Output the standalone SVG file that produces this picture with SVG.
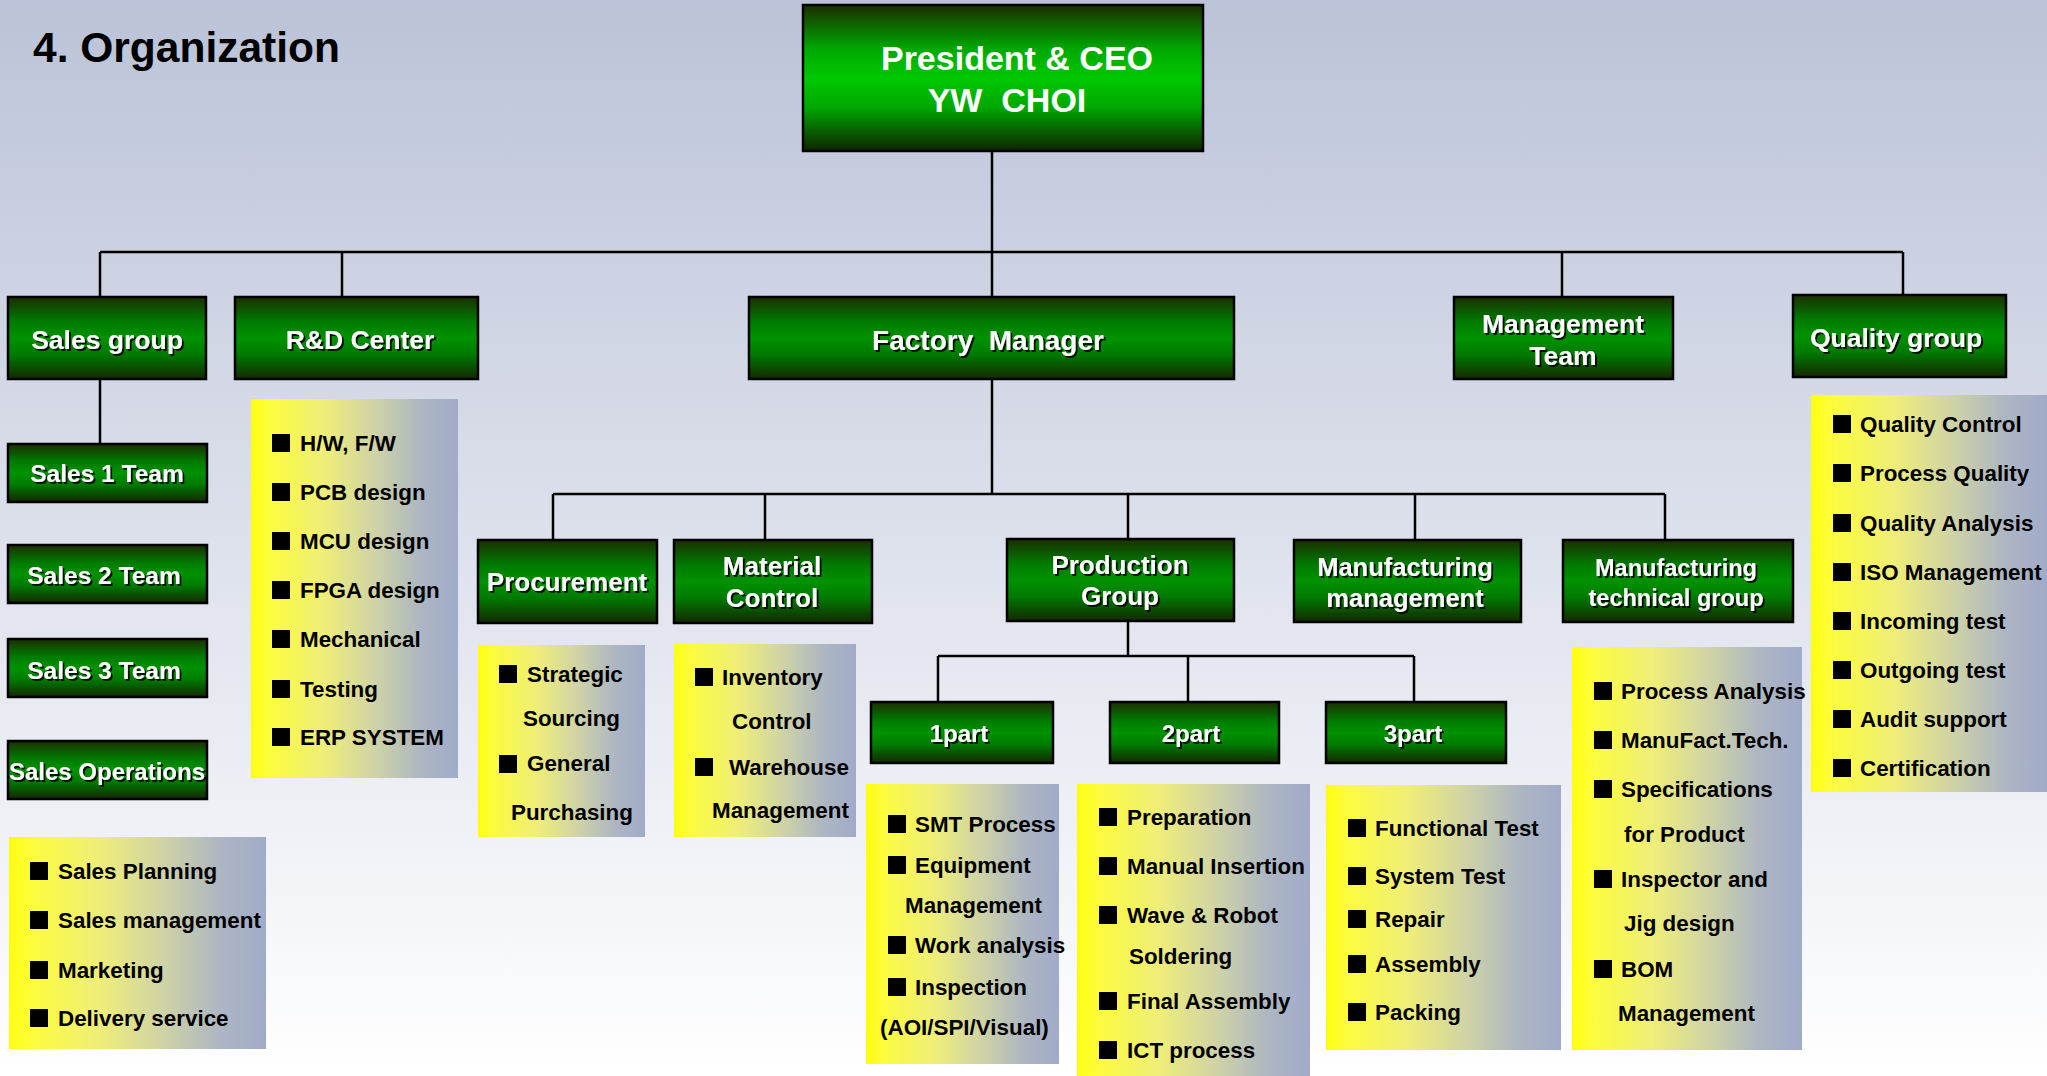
<svg xmlns="http://www.w3.org/2000/svg" width="2047" height="1076" viewBox="0 0 2047 1076">
<defs>
<linearGradient id="bg" x1="0" y1="0" x2="0" y2="1">
<stop offset="0" stop-color="#bbc3d8"/>
<stop offset="0.45" stop-color="#dadeea"/>
<stop offset="1" stop-color="#ffffff"/>
</linearGradient>
<linearGradient id="gr" x1="0" y1="0" x2="0" y2="1">
<stop offset="0" stop-color="#1b2e00"/>
<stop offset="0.3" stop-color="#007a00"/>
<stop offset="0.5" stop-color="#009200"/>
<stop offset="0.7" stop-color="#007a00"/>
<stop offset="1" stop-color="#142800"/>
</linearGradient>
<linearGradient id="ceo" x1="0" y1="0" x2="0" y2="1">
<stop offset="0" stop-color="#1b2e00"/>
<stop offset="0.3" stop-color="#00a800"/>
<stop offset="0.5" stop-color="#00c800"/>
<stop offset="0.7" stop-color="#00a800"/>
<stop offset="1" stop-color="#0e2400"/>
</linearGradient>
<linearGradient id="yl" x1="0" y1="0" x2="1" y2="0">
<stop offset="0" stop-color="#ffff10"/>
<stop offset="0.1" stop-color="#fbfb40"/>
<stop offset="0.35" stop-color="#efee78"/>
<stop offset="0.6" stop-color="#cfd3a6"/>
<stop offset="0.82" stop-color="#adb6c2"/>
<stop offset="1" stop-color="#a1abc9"/>
</linearGradient>
<filter id="sh" x="-10%" y="-30%" width="120%" height="160%">
<feDropShadow dx="2" dy="2" stdDeviation="0.7" flood-color="#000" flood-opacity="0.85"/>
</filter>
</defs>
<style>
.box{fill:url(#gr);stroke:#000;stroke-width:2.5}
.ceo{fill:url(#ceo);stroke:#000;stroke-width:2.5}
.t{font-family:"Liberation Sans",Arial,sans-serif;font-weight:bold;fill:#fff;text-anchor:middle;font-size:26.5px;filter:url(#sh)}
.ct{font-family:"Liberation Sans",Arial,sans-serif;font-weight:bold;fill:#fff;text-anchor:middle;font-size:34px}
.list{fill:url(#yl)}
.li{font-family:"Liberation Sans",Arial,sans-serif;font-weight:bold;fill:#000;font-size:22.4px}
.b{fill:#000}
.c{stroke:#000;stroke-width:2.5;fill:none}
.title{font-family:"Liberation Sans",Arial,sans-serif;font-weight:bold;fill:#000;font-size:42.5px}
</style>
<rect x="0" y="0" width="2047" height="1076" fill="url(#bg)"/>
<text class="title" x="33" y="62">4. Organization</text>

<g id="connectors">
<path class="c" d="M992 151V297M100 252H1903M100 252V297M342 252V297M1562 252V297M1903 252V295M100 379V444M992 379V494M553 494H1665M553 494V540M765 494V540M1128 494V540M1415 494V540M1665 494V540M1128 621V656M938 656H1414M938 656V702M1188 656V702M1414 656V702"/>
</g>

<g id="ceo-node">
<rect class="ceo" x="803" y="5" width="400" height="146"/>
<text class="ct" x="1017" y="70">President &amp; CEO</text>
<text class="ct" x="1007" y="112" xml:space="preserve">YW  CHOI</text>
</g>

<g id="sales-group">
<rect class="box" x="8" y="297" width="198" height="82"/>
<text class="t" x="107" y="349">Sales group</text>
</g>
<g id="rd-center">
<rect class="box" x="235" y="297" width="243" height="82"/>
<text class="t" x="360" y="349">R&amp;D Center</text>
</g>
<g id="factory-manager">
<rect class="box" x="749" y="297" width="485" height="82"/>
<text class="t" x="988" y="350" style="font-size:28px" xml:space="preserve">Factory  Manager</text>
</g>
<g id="management-team">
<rect class="box" x="1454" y="297" width="219" height="82"/>
<text class="t" x="1563" y="333">Management</text>
<text class="t" x="1563" y="365">Team</text>
</g>
<g id="quality-group">
<rect class="box" x="1793" y="295" width="213" height="82"/>
<text class="t" x="1896" y="347">Quality group</text>
</g>

<g id="sales-1-team">
<rect class="box" x="8" y="444" width="199" height="58"/>
<text class="t" x="107" y="482" style="font-size:24.5px">Sales 1 Team</text>
</g>
<g id="sales-2-team">
<rect class="box" x="8" y="545" width="199" height="58"/>
<text class="t" x="104" y="584" style="font-size:24.5px">Sales 2 Team</text>
</g>
<g id="sales-3-team">
<rect class="box" x="8" y="639" width="199" height="58"/>
<text class="t" x="104" y="679" style="font-size:24.5px">Sales 3 Team</text>
</g>
<g id="sales-operations">
<rect class="box" x="8" y="741" width="199" height="58"/>
<text class="t" x="107" y="780" style="font-size:24px">Sales Operations</text>
</g>

<g id="sales-list">
<rect class="list" x="9" y="837" width="257" height="212"/>
<rect class="b" x="30" y="862" width="18" height="18"/><text class="li" x="58" y="879">Sales Planning</text>
<rect class="b" x="30" y="911" width="18" height="18"/><text class="li" x="58" y="928">Sales management</text>
<rect class="b" x="30" y="961" width="18" height="18"/><text class="li" x="58" y="978">Marketing</text>
<rect class="b" x="30" y="1009" width="18" height="18"/><text class="li" x="58" y="1026">Delivery service</text>
</g>

<g id="rd-list">
<rect class="list" x="251" y="399" width="207" height="379"/>
<rect class="b" x="272" y="434" width="18" height="18"/><text class="li" x="300" y="451">H/W, F/W</text>
<rect class="b" x="272" y="483" width="18" height="18"/><text class="li" x="300" y="500">PCB design</text>
<rect class="b" x="272" y="532" width="18" height="18"/><text class="li" x="300" y="549">MCU design</text>
<rect class="b" x="272" y="581" width="18" height="18"/><text class="li" x="300" y="598">FPGA design</text>
<rect class="b" x="272" y="630" width="18" height="18"/><text class="li" x="300" y="647">Mechanical</text>
<rect class="b" x="272" y="680" width="18" height="18"/><text class="li" x="300" y="697">Testing</text>
<rect class="b" x="272" y="728" width="18" height="18"/><text class="li" x="300" y="745">ERP SYSTEM</text>
</g>

<g id="procurement">
<rect class="box" x="478" y="540" width="179" height="83"/>
<text class="t" x="567" y="591" style="font-size:26px">Procurement</text>
</g>
<g id="material-control">
<rect class="box" x="674" y="540" width="198" height="83"/>
<text class="t" x="772" y="575" style="font-size:26px">Material</text>
<text class="t" x="772" y="607" style="font-size:26px">Control</text>
</g>
<g id="production-group">
<rect class="box" x="1007" y="539" width="227" height="82"/>
<text class="t" x="1120" y="574" style="font-size:26px">Production</text>
<text class="t" x="1120" y="605" style="font-size:26px">Group</text>
</g>
<g id="manufacturing-management">
<rect class="box" x="1294" y="540" width="227" height="82"/>
<text class="t" x="1405" y="576" style="font-size:25.5px">Manufacturing</text>
<text class="t" x="1405" y="607" style="font-size:25.5px">management</text>
</g>
<g id="manufacturing-technical-group">
<rect class="box" x="1563" y="540" width="230" height="82"/>
<text class="t" x="1676" y="576" style="font-size:23.5px">Manufacturing</text>
<text class="t" x="1676" y="606" style="font-size:23.5px">technical group</text>
</g>

<g id="procurement-list">
<rect class="list" x="478" y="645" width="167" height="192"/>
<rect class="b" x="499" y="665" width="18" height="18"/><text class="li" x="527" y="682">Strategic</text>
<text class="li" x="523" y="726">Sourcing</text>
<rect class="b" x="499" y="755" width="18" height="18"/><text class="li" x="527" y="771">General</text>
<text class="li" x="511" y="820">Purchasing</text>
</g>
<g id="material-list">
<rect class="list" x="674" y="644" width="182" height="193"/>
<rect class="b" x="695" y="668" width="18" height="18"/><text class="li" x="722" y="685">Inventory</text>
<text class="li" x="732" y="729">Control</text>
<rect class="b" x="695" y="758" width="18" height="18"/><text class="li" x="729" y="775">Warehouse</text>
<text class="li" x="712" y="818">Management</text>
</g>

<g id="part1">
<rect class="box" x="871" y="702" width="182" height="61"/>
<text class="t" x="959" y="742" style="font-size:24px">1part</text>
</g>
<g id="part2">
<rect class="box" x="1110" y="702" width="169" height="61"/>
<text class="t" x="1191" y="742" style="font-size:24px">2part</text>
</g>
<g id="part3">
<rect class="box" x="1326" y="702" width="180" height="61"/>
<text class="t" x="1413" y="742" style="font-size:24px">3part</text>
</g>

<g id="part1-list">
<rect class="list" x="866" y="784" width="193" height="280"/>
<rect class="b" x="888" y="815" width="18" height="18"/><text class="li" x="915" y="832">SMT Process</text>
<rect class="b" x="888" y="856" width="18" height="18"/><text class="li" x="915" y="873">Equipment</text>
<text class="li" x="905" y="913">Management</text>
<rect class="b" x="888" y="936" width="18" height="18"/><text class="li" x="915" y="953">Work analysis</text>
<rect class="b" x="888" y="978" width="18" height="18"/><text class="li" x="915" y="995">Inspection</text>
<text class="li" x="880" y="1035">(AOI/SPI/Visual)</text>
</g>
<g id="part2-list">
<rect class="list" x="1077" y="784" width="233" height="292"/>
<rect class="b" x="1099" y="808" width="18" height="18"/><text class="li" x="1127" y="825">Preparation</text>
<rect class="b" x="1099" y="857" width="18" height="18"/><text class="li" x="1127" y="874">Manual Insertion</text>
<rect class="b" x="1099" y="906" width="18" height="18"/><text class="li" x="1127" y="923">Wave &amp; Robot</text>
<text class="li" x="1129" y="964">Soldering</text>
<rect class="b" x="1099" y="992" width="18" height="18"/><text class="li" x="1127" y="1009">Final Assembly</text>
<rect class="b" x="1099" y="1041" width="18" height="18"/><text class="li" x="1127" y="1058">ICT process</text>
</g>
<g id="part3-list">
<rect class="list" x="1326" y="785" width="235" height="265"/>
<rect class="b" x="1348" y="819" width="18" height="18"/><text class="li" x="1375" y="836">Functional Test</text>
<rect class="b" x="1348" y="867" width="18" height="18"/><text class="li" x="1375" y="884">System Test</text>
<rect class="b" x="1348" y="910" width="18" height="18"/><text class="li" x="1375" y="927">Repair</text>
<rect class="b" x="1348" y="955" width="18" height="18"/><text class="li" x="1375" y="972">Assembly</text>
<rect class="b" x="1348" y="1003" width="18" height="18"/><text class="li" x="1375" y="1020">Packing</text>
</g>
<g id="mfg-tech-list">
<rect class="list" x="1572" y="647" width="230" height="403"/>
<rect class="b" x="1594" y="682" width="18" height="18"/><text class="li" x="1621" y="699">Process Analysis</text>
<rect class="b" x="1594" y="731" width="18" height="18"/><text class="li" x="1621" y="748">ManuFact.Tech.</text>
<rect class="b" x="1594" y="780" width="18" height="18"/><text class="li" x="1621" y="797">Specifications</text>
<text class="li" x="1624" y="842">for Product</text>
<rect class="b" x="1594" y="870" width="18" height="18"/><text class="li" x="1621" y="887">Inspector and</text>
<text class="li" x="1624" y="931">Jig design</text>
<rect class="b" x="1594" y="960" width="18" height="18"/><text class="li" x="1621" y="977">BOM</text>
<text class="li" x="1618" y="1021">Management</text>
</g>
<g id="quality-list">
<rect class="list" x="1811" y="395" width="236" height="397"/>
<rect class="b" x="1833" y="415" width="18" height="18"/><text class="li" x="1860" y="432">Quality Control</text>
<rect class="b" x="1833" y="464" width="18" height="18"/><text class="li" x="1860" y="481">Process Quality</text>
<rect class="b" x="1833" y="514" width="18" height="18"/><text class="li" x="1860" y="531">Quality Analysis</text>
<rect class="b" x="1833" y="563" width="18" height="18"/><text class="li" x="1860" y="580">ISO Management</text>
<rect class="b" x="1833" y="612" width="18" height="18"/><text class="li" x="1860" y="629">Incoming test</text>
<rect class="b" x="1833" y="661" width="18" height="18"/><text class="li" x="1860" y="678">Outgoing test</text>
<rect class="b" x="1833" y="710" width="18" height="18"/><text class="li" x="1860" y="727">Audit support</text>
<rect class="b" x="1833" y="759" width="18" height="18"/><text class="li" x="1860" y="776">Certification</text>
</g>
</svg>
